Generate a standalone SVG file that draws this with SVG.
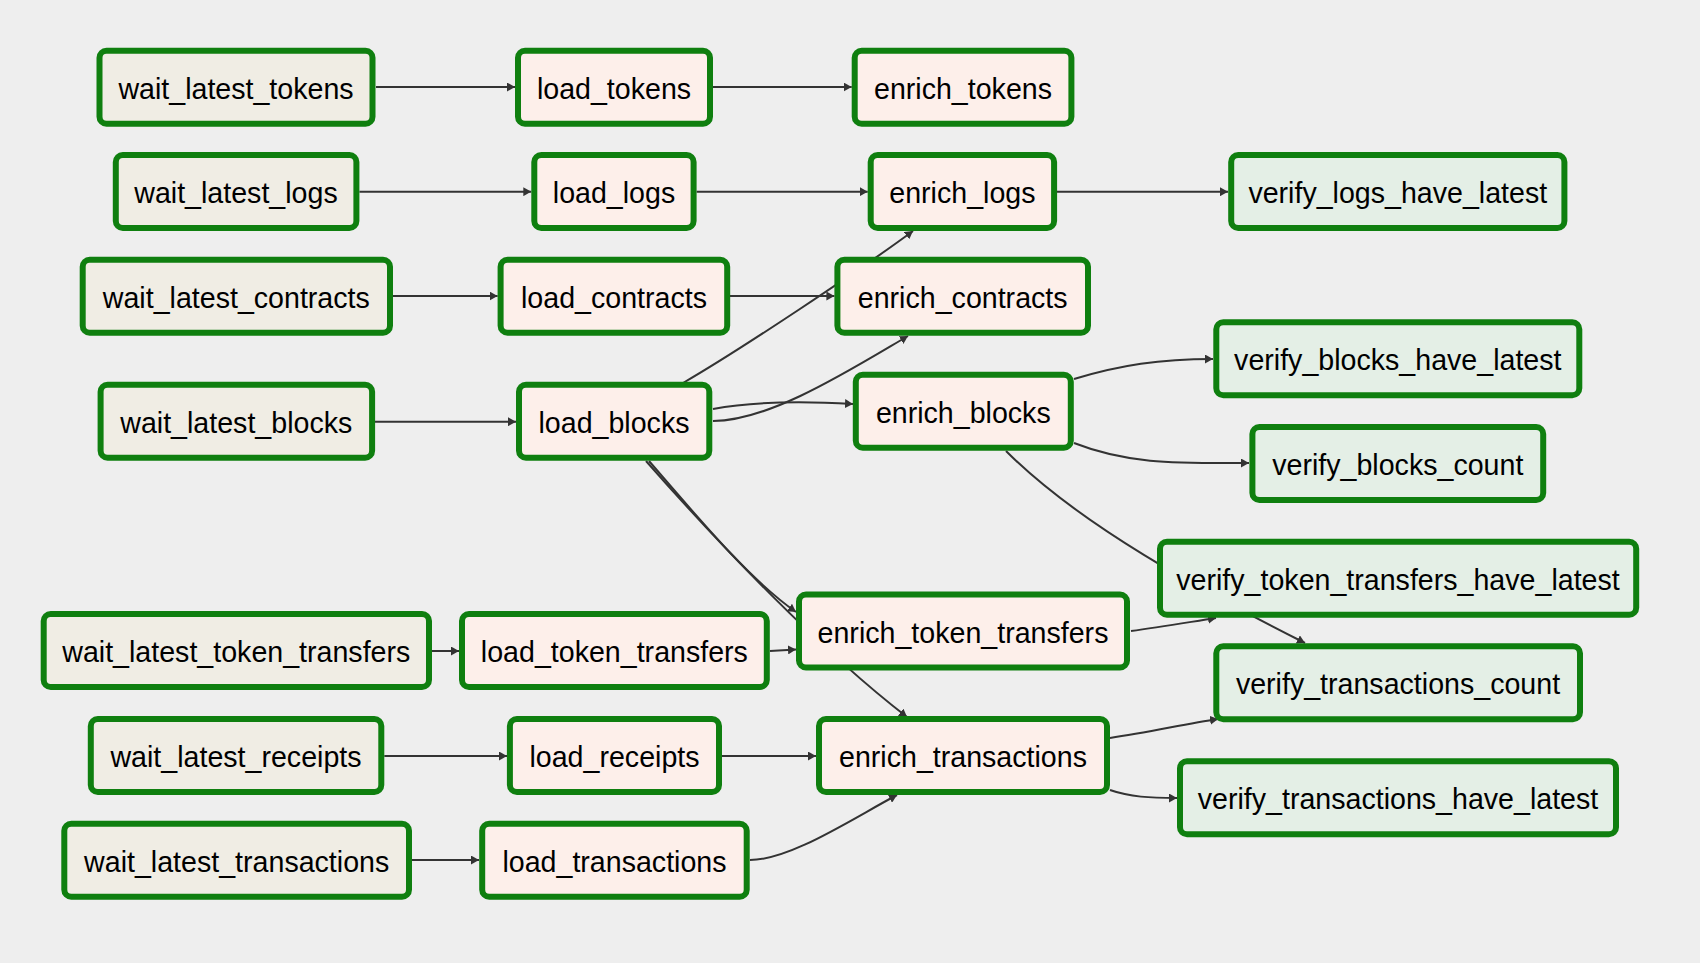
<svg xmlns="http://www.w3.org/2000/svg" width="1700" height="963" viewBox="0 0 1700 963">
<style>
.n rect{stroke:#0f7f0f;stroke-width:6}
.w rect{fill:#f0ede4}
.l rect{fill:#fdefea}
.v rect{fill:#e4efe6}
.n text{font-family:"Liberation Sans",Arial,sans-serif;font-size:28.6px;fill:#000;text-anchor:middle}
#edges path{fill:none;stroke:#333;stroke-width:2;marker-end:url(#arr)}
</style>
<defs>
<marker id="arr" markerUnits="userSpaceOnUse" viewBox="0 0 8 9" markerWidth="8" markerHeight="9" refX="8" refY="4.5" orient="auto">
<path d="M0,0 L8,4.5 L0,9 z" fill="#333"/>
</marker>
</defs>
<rect x="0" y="0" width="1700" height="963" fill="#eeeeee"/>
<g id="edges">
<path d="M376,87 L515,87"/>
<path d="M713,87 L851.7,87"/>
<path d="M359.4,191.7 L531.3,191.7"/>
<path d="M696.6,191.7 L867.7,191.7"/>
<path d="M1057,191.7 L1228,191.7"/>
<path d="M393,296 L497.6,296"/>
<path d="M730,296 L834.4,296"/>
<path d="M375,421.7 L516,421.7"/>
<path d="M683,383 C740,350 860,270 913,231"/>
<path d="M713,421 C770,421 850,370 908,336"/>
<path d="M713,409 C750,402 800,401 853,404"/>
<path d="M649,461 C700,520 750,580 796,612"/>
<path d="M646,461 C720,545 820,650 907,717"/>
<path d="M432,651 L459,651"/>
<path d="M770,651 L796,649.5"/>
<path d="M384.3,756 L507,756"/>
<path d="M722,756 L816,756"/>
<path d="M412,860 L479,860"/>
<path d="M750,860 C790,860 850,820 897,795"/>
<path d="M1074,379 C1120,365 1160,359 1213,359"/>
<path d="M1074,443 C1130,465 1180,463 1249,463"/>
<path d="M1006,451 C1080,525 1200,590 1305,643"/>
<path d="M1131,631 C1160,627 1190,622 1216,618"/>
<path d="M1110,738 C1150,732 1185,724 1218,719"/>
<path d="M1110,790 C1130,797 1150,798 1177,798"/>
</g>
<g id="wait_latest_tokens" class="n w"><rect x="99.5" y="50.7" width="273" height="73" rx="7"/><text x="236" y="98.7">wait_latest_tokens</text></g>
<g id="load_tokens" class="n l"><rect x="518" y="50.7" width="192" height="73" rx="7"/><text x="614" y="98.7">load_tokens</text></g>
<g id="enrich_tokens" class="n l"><rect x="854.7" y="50.7" width="216.7" height="73" rx="7"/><text x="963" y="98.7">enrich_tokens</text></g>
<g id="wait_latest_logs" class="n w"><rect x="115.8" y="155" width="240.6" height="73" rx="7"/><text x="236" y="203">wait_latest_logs</text></g>
<g id="load_logs" class="n l"><rect x="534.3" y="155" width="159.3" height="73" rx="7"/><text x="614" y="203">load_logs</text></g>
<g id="enrich_logs" class="n l"><rect x="870.7" y="155" width="183.4" height="73" rx="7"/><text x="962.4" y="203">enrich_logs</text></g>
<g id="verify_logs_have_latest" class="n v"><rect x="1231.2" y="155" width="333.2" height="73" rx="7"/><text x="1397.8" y="203">verify_logs_have_latest</text></g>
<g id="wait_latest_contracts" class="n w"><rect x="82.7" y="259.7" width="307.3" height="73" rx="7"/><text x="236.3" y="307.7">wait_latest_contracts</text></g>
<g id="load_contracts" class="n l"><rect x="500.6" y="259.7" width="226.6" height="73" rx="7"/><text x="614" y="307.7">load_contracts</text></g>
<g id="enrich_contracts" class="n l"><rect x="837.4" y="259.7" width="250.6" height="73" rx="7"/><text x="962.7" y="307.7">enrich_contracts</text></g>
<g id="wait_latest_blocks" class="n w"><rect x="100.6" y="384.7" width="271.5" height="73" rx="7"/><text x="236.3" y="432.8">wait_latest_blocks</text></g>
<g id="load_blocks" class="n l"><rect x="519" y="384.7" width="190.3" height="73" rx="7"/><text x="614" y="432.8">load_blocks</text></g>
<g id="enrich_blocks" class="n l"><rect x="855.8" y="374.7" width="215" height="73" rx="7"/><text x="963.3" y="422.7">enrich_blocks</text></g>
<g id="verify_blocks_have_latest" class="n v"><rect x="1216.3" y="322.3" width="363" height="73" rx="7"/><text x="1397.8" y="370.3">verify_blocks_have_latest</text></g>
<g id="verify_blocks_count" class="n v"><rect x="1252.4" y="427" width="290.8" height="73" rx="7"/><text x="1397.8" y="475">verify_blocks_count</text></g>
<g id="verify_token_transfers_have_latest" class="n v"><rect x="1160" y="541.7" width="476.2" height="73" rx="7"/><text x="1398" y="589.7">verify_token_transfers_have_latest</text></g>
<g id="wait_latest_token_transfers" class="n w"><rect x="43.7" y="614" width="385.3" height="73" rx="7"/><text x="236.3" y="662.3">wait_latest_token_transfers</text></g>
<g id="load_token_transfers" class="n l"><rect x="462" y="614" width="304.8" height="73" rx="7"/><text x="614.4" y="662.3">load_token_transfers</text></g>
<g id="enrich_token_transfers" class="n l"><rect x="799" y="594.5" width="328" height="73" rx="7"/><text x="963" y="642.5">enrich_token_transfers</text></g>
<g id="verify_transactions_count" class="n v"><rect x="1216.3" y="646.3" width="363.7" height="73" rx="7"/><text x="1398" y="694.3">verify_transactions_count</text></g>
<g id="wait_latest_receipts" class="n w"><rect x="90.8" y="719" width="290.5" height="73" rx="7"/><text x="236" y="767">wait_latest_receipts</text></g>
<g id="load_receipts" class="n l"><rect x="509.9" y="719" width="209.1" height="73" rx="7"/><text x="614.5" y="767">load_receipts</text></g>
<g id="enrich_transactions" class="n l"><rect x="819" y="719" width="288" height="73" rx="7"/><text x="963" y="767.3">enrich_transactions</text></g>
<g id="verify_transactions_have_latest" class="n v"><rect x="1180" y="761.3" width="436" height="73" rx="7"/><text x="1398" y="809.3">verify_transactions_have_latest</text></g>
<g id="wait_latest_transactions" class="n w"><rect x="64.3" y="823.7" width="344.7" height="73" rx="7"/><text x="236.7" y="871.8">wait_latest_transactions</text></g>
<g id="load_transactions" class="n l"><rect x="482.2" y="823.7" width="264.5" height="73" rx="7"/><text x="614.5" y="871.8">load_transactions</text></g>
</svg>
